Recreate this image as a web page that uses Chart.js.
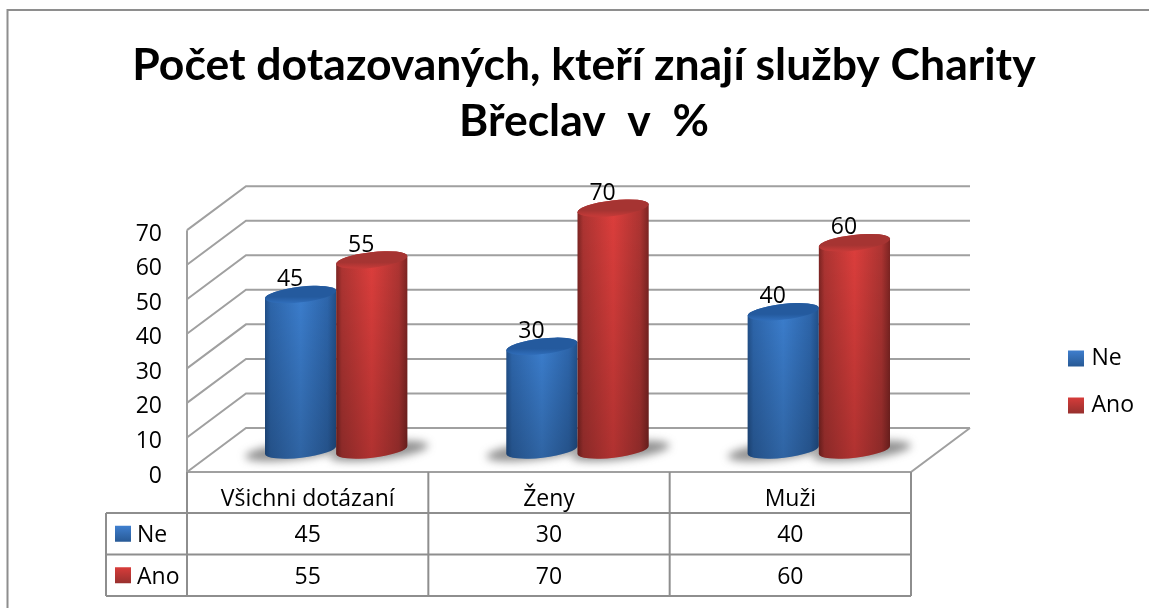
<!DOCTYPE html>
<html>
<head>
<meta charset="utf-8">
<script src="https://cdn.jsdelivr.net/npm/chart.js@4"></script>
<style>html,body{margin:0;padding:0;background:#fff}canvas{display:block}</style>
</head>
<body>
<canvas id="c" width="1149" height="608"></canvas>
<script>
const titleLines = ["Počet dotazovaných, kteří znají služby Charity", "Břeclav  v  %"];
const categories = ["Všichni dotázaní", "Ženy", "Muži"];
const seriesNames = ["Ne", "Ano"];
const neValues = [45, 30, 40];
const anoValues = [55, 70, 60];
const yTicks = [0, 10, 20, 30, 40, 50, 60, 70];

const FONT = "'Open Sans'";
const TITLE_FONT = "Lato";
const DX = 59, DY = 44, LINE = '#a0a0a0', TLINE = '#8e8e8e';
const PALETTE = [
  {edge:'#214f88', mid:'#2d65aa', light:'#3b7dcc', top:'#245a9e', topEdge:'#2f6cb8', sw0:'#3f7fcf', sw1:'#285a96'},
  {edge:'#7c2422', mid:'#ad3432', light:'#dc3e3c', top:'#a63432', topEdge:'#c43a38', sw0:'#d83c3a', sw1:'#98302e'}
];
function swatch(ctx, x, y, p){
  const g = ctx.createLinearGradient(0, y, 0, y + 16);
  g.addColorStop(0, p.sw0); g.addColorStop(1, p.sw1);
  ctx.fillStyle = g; ctx.fillRect(x, y, 16, 16);
}
function line(ctx, pts, color, w){
  ctx.beginPath(); ctx.strokeStyle = color; ctx.lineWidth = w;
  pts.forEach((p, i) => i ? ctx.lineTo(p[0], p[1]) : ctx.moveTo(p[0], p[1]));
  ctx.stroke();
}
const ROT = -6.5 * Math.PI / 180;
function cylinder(ctx, cx, topY, baseY, w, p){
  const rx = w / 2 / Math.cos(ROT), ry = 7.8;
  const sx = rx * Math.cos(ROT), sy = rx * Math.sin(ROT);
  ctx.save();
  ctx.beginPath();
  ctx.moveTo(cx - sx, topY - sy);
  ctx.lineTo(cx - sx, baseY - sy);
  ctx.ellipse(cx, baseY, rx, ry, ROT, Math.PI, 0, true);
  ctx.lineTo(cx + sx, topY + sy);
  ctx.ellipse(cx, topY, rx, ry, ROT, 0, Math.PI, true);
  ctx.closePath();
  ctx.clip();
  const g = ctx.createLinearGradient(cx - sx, 0, cx + sx, 0);
  g.addColorStop(0, p.edge); g.addColorStop(0.08, p.mid); g.addColorStop(0.5, p.light);
  g.addColorStop(0.88, p.mid); g.addColorStop(1, p.edge);
  ctx.fillStyle = g;
  ctx.fillRect(cx - w, topY - 30, w * 2, baseY - topY + 60);
  const v = ctx.createLinearGradient(0, topY, 0, baseY + 8);
  v.addColorStop(0, 'rgba(0,0,0,0)'); v.addColorStop(1, 'rgba(0,0,0,0.2)');
  ctx.fillStyle = v;
  ctx.fillRect(cx - w, topY - 30, w * 2, baseY - topY + 60);
  ctx.restore();
  const t = ctx.createLinearGradient(0, topY + 8, 0, topY - 8);
  t.addColorStop(0, p.topEdge); t.addColorStop(0.35, p.top); t.addColorStop(1, p.top);
  ctx.beginPath();
  ctx.ellipse(cx, topY, rx, ry, ROT, 0, Math.PI * 2);
  ctx.fillStyle = t; ctx.fill();
}

const scene = {
  id: 'scene',
  beforeLayout(chart){
    const l = chart.legend;
    if (l && !l._patched){
      const f = l.fit;
      l.fit = function(){ f.call(this); this.width = 238; };
      l._patched = true;
    }
  },
  afterLayout(chart){
    const l = chart.legend, pad = l.options.labels.padding;
    const w = l.width;
    l.left = 1072 - pad; l.right = l.left + w;
    const h = l.bottom - l.top;
    l.top = 347 - pad; l.bottom = l.top + h;
    chart.titleBlock.left += 9.5;
    chart.titleBlock.right += 9.5;
  },
  beforeDraw(chart){
    const ctx = chart.ctx;
    ctx.save();
    line(ctx, [[7.5, 608], [7.5, 10], [1149, 10]], '#8e8e8e', 2);
    ctx.restore();
  },
  beforeDatasetsDraw(chart){
    const ctx = chart.ctx, ys = chart.scales.y, xs = chart.scales.x;
    const L = xs.left, R = xs.right, B = ys.bottom;
    ctx.save();
    ctx.lineCap = 'butt';
    // walls
    yTicks.forEach(v => {
      const y = ys.getPixelForValue(v);
      line(ctx, [[L, y], [L + DX, y - DY], [R + DX, y - DY]], LINE, 2);
    });
    line(ctx, [[L, ys.top], [L, B]], LINE, 2);
    line(ctx, [[L, B], [R, B], [R + DX, B - DY]], LINE, 2);
    // floor shadows
    chart.data.datasets.forEach((ds, di) => {
      chart.getDatasetMeta(di).data.forEach(bar => {
        ctx.save();
        ctx.filter = 'blur(4px)';
        ctx.fillStyle = 'rgba(70,70,70,0.6)';
        ctx.beginPath();
        ctx.ellipse(bar.x + DX / 2 - 1 + (di ? 7 : -6), ys.getPixelForValue(0) - DY / 2 + 1, bar.width / 2 + 14, 8.5, ROT, 0, Math.PI * 2);
        ctx.fill();
        ctx.restore();
      });
    });
    // cylinders
    chart.data.datasets.forEach((ds, di) => {
      chart.getDatasetMeta(di).data.forEach(bar => {
        cylinder(ctx, bar.x + DX / 2 - 1, bar.y - DY / 2, ys.getPixelForValue(0) - DY / 2, bar.width, PALETTE[di]);
      });
    });
    // value labels
    ctx.fillStyle = '#000'; ctx.textAlign = 'center'; ctx.textBaseline = 'middle';
    ctx.font = '23px ' + FONT;
    chart.data.datasets.forEach((ds, di) => {
      chart.getDatasetMeta(di).data.forEach((bar, i) => {
        ctx.fillText(String(ds.data[i]), bar.x + DX / 2 - 11.5, bar.y - DY / 2 - 15);
      });
    });
    // data table
    const rowH = 41.5, top = 513, left = 106, cw = (R - L) / categories.length;
    line(ctx, [[L, B], [L, top + rowH * 2]], TLINE, 2);
    for (let i = 1; i <= categories.length; i++) line(ctx, [[L + cw * i, B], [L + cw * i, top + rowH * 2]], TLINE, 2);
    for (let r = 0; r <= 2; r++) line(ctx, [[left, top + r * rowH], [R, top + r * rowH]], TLINE, 2);
    line(ctx, [[left, top], [left, top + rowH * 2]], TLINE, 2);
    chart.data.datasets.forEach((ds, di) => {
      const cy = top + rowH * di + rowH / 2;
      swatch(ctx, 115, cy - 8, PALETTE[di]);
      ctx.fillStyle = '#000'; ctx.textAlign = 'left';
      ctx.fillText(ds.label, 137, cy + 2);
      ctx.textAlign = 'center';
      ds.data.forEach((v, i) => ctx.fillText(String(v), L + cw * (i + 0.5), cy + 2));
    });
    ctx.restore();
    return false;
  }
};

new Chart(document.getElementById('c'), {
  type: 'bar',
  data: {
    labels: categories,
    datasets: [
      {label: seriesNames[0], data: neValues, backgroundColor: '#3c80d4'},
      {label: seriesNames[1], data: anoValues, backgroundColor: '#d83c3a'}
    ]
  },
  plugins: [scene],
  options: {
    responsive: false,
    animation: false,
    layout: {padding: 0},
    datasets: {bar: {categoryPercentage: 0.59, barPercentage: 1}},
    scales: {
      x: {
        grid: {display: false}, border: {display: false},
        ticks: {color: '#000', font: {family: FONT, size: 23}, padding: 6, maxRotation: 0, autoSkip: false},
        afterFit(s){ s.height = 136; }
      },
      y: {
        min: 0, max: 70,
        grid: {display: false}, border: {display: false},
        ticks: {color: '#000', font: {family: FONT, size: 23}, stepSize: 10, padding: 17, labelOffset: 4},
        afterFit(s){ s.width = 187; }
      }
    },
    plugins: {
      title: {
        display: true, text: titleLines, color: '#000',
        font: {family: TITLE_FONT, size: 44.5, weight: 'bold', lineHeight: 1.26},
        padding: {top: 38, bottom: 80}
      },
      legend: {
        position: 'right', align: 'start',
        labels: {
          color: '#000', font: {family: FONT, size: 23}, boxWidth: 8, boxHeight: 8, padding: 24,
          generateLabels(chart){
            return chart.data.datasets.map((ds, i) => {
              const y = 350 + i * 47;
              const g = chart.ctx.createLinearGradient(0, y, 0, y + 16);
              g.addColorStop(0, PALETTE[i].sw0); g.addColorStop(1, PALETTE[i].sw1);
              return {text: ds.label, fillStyle: g, strokeStyle: g, lineWidth: 8, fontColor: '#000', datasetIndex: i, hidden: false};
            });
          }
        }
      },
      tooltip: {enabled: false}
    }
  }
});
</script>
</body>
</html>
